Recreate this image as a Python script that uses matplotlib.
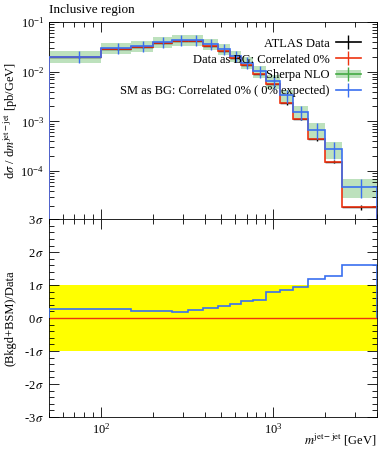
import numpy as np
import matplotlib
matplotlib.use('Agg')
import matplotlib.pyplot as plt
from matplotlib.patches import Patch
from matplotlib.lines import Line2D
from matplotlib.ticker import LogLocator, MultipleLocator, NullFormatter

plt.rcParams['font.family'] = ['Liberation Serif', 'DejaVu Serif']
plt.rcParams['mathtext.fontset'] = 'stix'
plt.rcParams['font.size'] = 9

# bin edges of m_jj [GeV]
edges = np.array([50, 100, 150, 200, 260, 320, 390, 480, 560, 650, 765, 910,
                  1100, 1300, 1600, 2000, 2500, 4000])
# ATLAS data / "Data as BG" (red)
data = np.array([0.0195, 0.0285, 0.031, 0.038, 0.042, 0.042, 0.033, 0.0262,
                 0.0193, 0.0137, 0.0089, 0.0056, 0.0023, 0.00112, 4.4e-4,
                 1.55e-4, 1.9e-5])
data_relerr = np.array([0.03, 0.03, 0.03, 0.03, 0.03, 0.03, 0.03, 0.03, 0.03,
                        0.04, 0.04, 0.05, 0.05, 0.06, 0.07, 0.08, 0.12])
# Sherpa NLO / "SM as BG" (blue)
sherpa = np.array([0.0202, 0.0298, 0.0327, 0.040, 0.0438, 0.044, 0.0359,
                   0.0284, 0.0208, 0.0153, 0.0103, 0.0065, 0.00337, 0.00156,
                   6.8e-4, 2.77e-4, 4.85e-5])
sherpa_relerr = np.array([0.27, 0.25, 0.25, 0.25, 0.25, 0.25, 0.25, 0.25,
                          0.25, 0.27, 0.28, 0.30, 0.30, 0.32, 0.35, 0.38, 0.40])
# pull in units of sigma (lower panel)
pull = np.array([0.29, 0.275, 0.20, 0.22, 0.19, 0.23, 0.32, 0.355, 0.44,
                 0.52, 0.54, 0.80, 0.865, 0.94, 1.17, 1.27, 1.61])
sigma_ticks = [-3, -2, -1, 0, 1, 2, 3]

red = '#EE3311'
blue = '#3A6FF0'
green = '#44AA44'

centers = 0.5 * (edges[1:] + edges[:-1])
halfw = 0.5 * (edges[1:] - edges[:-1])

fig = plt.figure(figsize=(3.89, 4.5), dpi=100)
ax = fig.add_axes([0.126, 0.513, 0.843, 0.438])
ax2 = fig.add_axes([0.126, 0.0733, 0.843, 0.4397], sharex=ax)

# upper panel
lo = sherpa * (1 - sherpa_relerr)
hi = sherpa * (1 + sherpa_relerr)
ax.fill_between(edges, np.append(lo, lo[-1]), np.append(hi, hi[-1]),
                step='post', color=green, alpha=0.35, lw=0, zorder=1)
ax.errorbar(centers, data, xerr=halfw, yerr=data * data_relerr,
            fmt='none', ecolor='black', elinewidth=1.0, zorder=2)
ax.stairs(data, edges, color=red, lw=1.2, zorder=3)
ax.errorbar(centers, sherpa, yerr=[sherpa - lo, hi - sherpa], fmt='none',
            ecolor=blue, elinewidth=1.0, zorder=4)
ax.stairs(sherpa, edges, color=blue, lw=1.2, zorder=4)

ax.set_xscale('log')
ax.set_yscale('log')
ax.set_xlim(50, 4000)
ax.set_ylim(1.08e-5, 0.1)
ax.set_ylabel(r'd$\sigma$ / d$m^{\mathrm{jet-jet}}$ [pb/GeV]')
ax.yaxis.set_label_coords(-0.088, 0.5)
ax.yaxis.set_major_locator(LogLocator(base=10, numticks=10))
ax.yaxis.set_minor_locator(LogLocator(base=10, subs=np.arange(2, 10), numticks=10))
ax.yaxis.set_minor_formatter(NullFormatter())
ax.tick_params(labelbottom=False)
ax.text(0.0, 1.03, 'Inclusive region', transform=ax.transAxes,
        ha='left', va='bottom', fontsize=9.5)


def cross(c, band=False):
    hline = Line2D([0, 1], [0.5, 0.5], color=c, lw=1.2)
    vline = Line2D([0], [0], color=c, lw=0, marker='|', markersize=10,
                   markeredgewidth=1.0)
    if band:
        return (Patch(color=green, alpha=0.35, lw=0), hline, vline)
    return (hline, vline)


leg = ax.legend([cross('black'), cross(red), cross(green, True), cross(blue)],
                ['ATLAS Data', 'Data as BG: Correlated 0%', 'Sherpa NLO',
                 'SM as BG: Correlated 0% ( 0% expected)'],
                loc='upper right', bbox_to_anchor=(0.95, 0.92), frameon=False,
                markerfirst=False, fontsize=9, handlelength=2.0,
                labelspacing=0.3, borderaxespad=0.0, borderpad=0.0,
                handletextpad=0.5)

# lower panel
ax2.axhspan(-1, 1, color='#FFFF00', lw=0, zorder=0)
ax2.axhline(0, color=red, lw=1.0, zorder=2)
ax2.stairs(pull, edges, color=blue, lw=1.2, zorder=3)
ax2.set_ylim(-3, 3)
ax2.set_yticks(sigma_ticks)
ax2.set_yticklabels([f'{v}$\\,\\sigma$' for v in sigma_ticks])
ax2.yaxis.set_minor_locator(MultipleLocator(0.2))
ax2.set_ylabel('(Bkgd+BSM)/Data')
ax2.yaxis.set_label_coords(-0.1, 0.5)
ax2.set_xlabel(r'$m^{\mathrm{jet-jet}}$ [GeV]', ha='right')
ax2.xaxis.set_label_coords(1.0, -0.075)

for a in (ax, ax2):
    a.tick_params(which='both', direction='in', top=True, right=True, labelsize=9)
    a.tick_params(which='major', length=7, width=0.6)
    a.tick_params(which='minor', length=3.5, width=0.6)
    for s in a.spines.values():
        s.set_linewidth(0.6)
    a.xaxis.set_minor_formatter(NullFormatter())

fig.savefig('out.png', dpi=100)
